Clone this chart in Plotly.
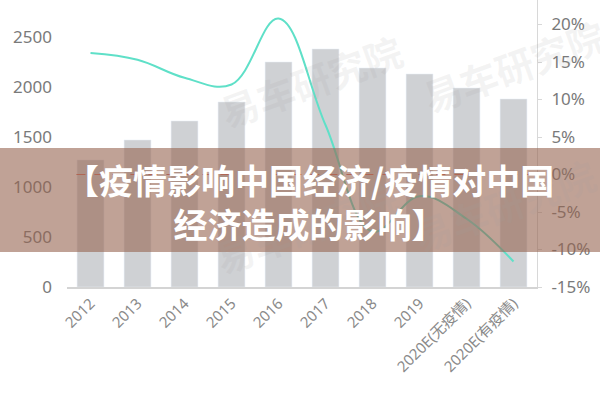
import plotly.graph_objects as go

categories = ["2012", "2013", "2014", "2015", "2016", "2017", "2018", "2019",
              "2020E(无疫情)", "2020E(有疫情)"]
sales = [1270, 1470, 1660, 1850, 2250, 2380, 2190, 2130, 1990, 1880]
growth = [16.2, 15.3, 12.9, 12.0, 20.8, 6.6, -7.6, -2.9, -5.9, -11.6]

left_ticks = [0, 500, 1000, 1500, 2000, 2500]
right_ticks = [-15, -10, -5, 0, 5, 10, 15, 20]
right_labels = ["-15%", "-10%", "-5%", "0%", "5%", "10%", "15%", "20%"]

banner_text = "【疫情影响中国经济/疫情对中国<br>经济造成的影响】"
watermark = "易车研究院"

fig = go.Figure()
fig.add_trace(go.Bar(x=categories, y=sales, marker=dict(color="#cfd1d4"),
                     yaxis="y", showlegend=False, hoverinfo="skip"))
fig.add_trace(go.Scatter(x=categories, y=growth, yaxis="y2", mode="lines",
                         line=dict(color="#5fe0c8", width=2, shape="spline", smoothing=1.1),
                         showlegend=False, hoverinfo="skip"))

font_family = "Noto Sans, Noto Sans CJK SC, sans-serif"
fig.update_layout(
    width=600, height=400,
    margin=dict(l=67, r=63, t=0, b=113, autoexpand=False),
    paper_bgcolor="white", plot_bgcolor="white",
    bargap=0.43,
    font=dict(family=font_family, color="#808080"),
    xaxis=dict(type="category", showline=True, linecolor="#d4d4d4", linewidth=1.5,
               tickangle=-45, tickfont=dict(size=15, color="#8a8a8a"), ticks="",
               showgrid=False, zeroline=False, automargin=False),
    yaxis=dict(range=[0, 2870], tickvals=left_ticks, showgrid=False, zeroline=False,
               showline=False, tickfont=dict(size=17, color="#7a7a7a"),
               ticklabelstandoff=14, automargin=False),
    yaxis2=dict(range=[-15, 23.27], overlaying="y", side="right", tickvals=right_ticks,
                ticktext=right_labels, showgrid=False, zeroline=False, showline=True,
                linecolor="#d8d8d8", linewidth=1, ticks="outside", ticklen=4,
                tickcolor="#d8d8d8", tickfont=dict(size=17, color="#7a7a7a"),
                ticklabelstandoff=6, automargin=False),
)


def px_x(p):
    return (p - 67) / 470.0


def px_y(p):
    return (287 - p) / 287.0


# red dashed zero line of growth axis
fig.add_shape(type="line", xref="paper", yref="y2", x0=0.02, x1=1, y0=0, y1=0,
              line=dict(color="#d86a5a", width=1, dash="dash"), layer="above")

# watermarks
for (wx, wy) in [(210, 20), (615, 5), (205, 287), (605, 265)]:
    fig.add_annotation(xref="paper", yref="paper", x=px_x(wx), y=px_y(wy), text=watermark,
                       showarrow=False, textangle=-20,
                       font=dict(size=38, color="rgba(160,160,160,0.12)",
                                 family="Noto Sans CJK SC", weight="bold"))

# banner
fig.add_shape(type="rect", xref="paper", yref="paper", x0=px_x(0), x1=px_x(600),
              y0=px_y(252), y1=px_y(148), line=dict(width=0),
              fillcolor="rgba(150,100,80,0.6)", layer="above")
fig.add_annotation(xref="paper", yref="paper", x=px_x(309), y=px_y(201),
                   text=banner_text, showarrow=False,
                   xanchor="center", yanchor="middle", align="center",
                   font=dict(size=34, color="white", family="Noto Sans CJK SC",
                             weight="bold"))

fig.write_html("out.html", config={"displayModeBar": False},
               post_script="document.body.style.margin='0px';")
